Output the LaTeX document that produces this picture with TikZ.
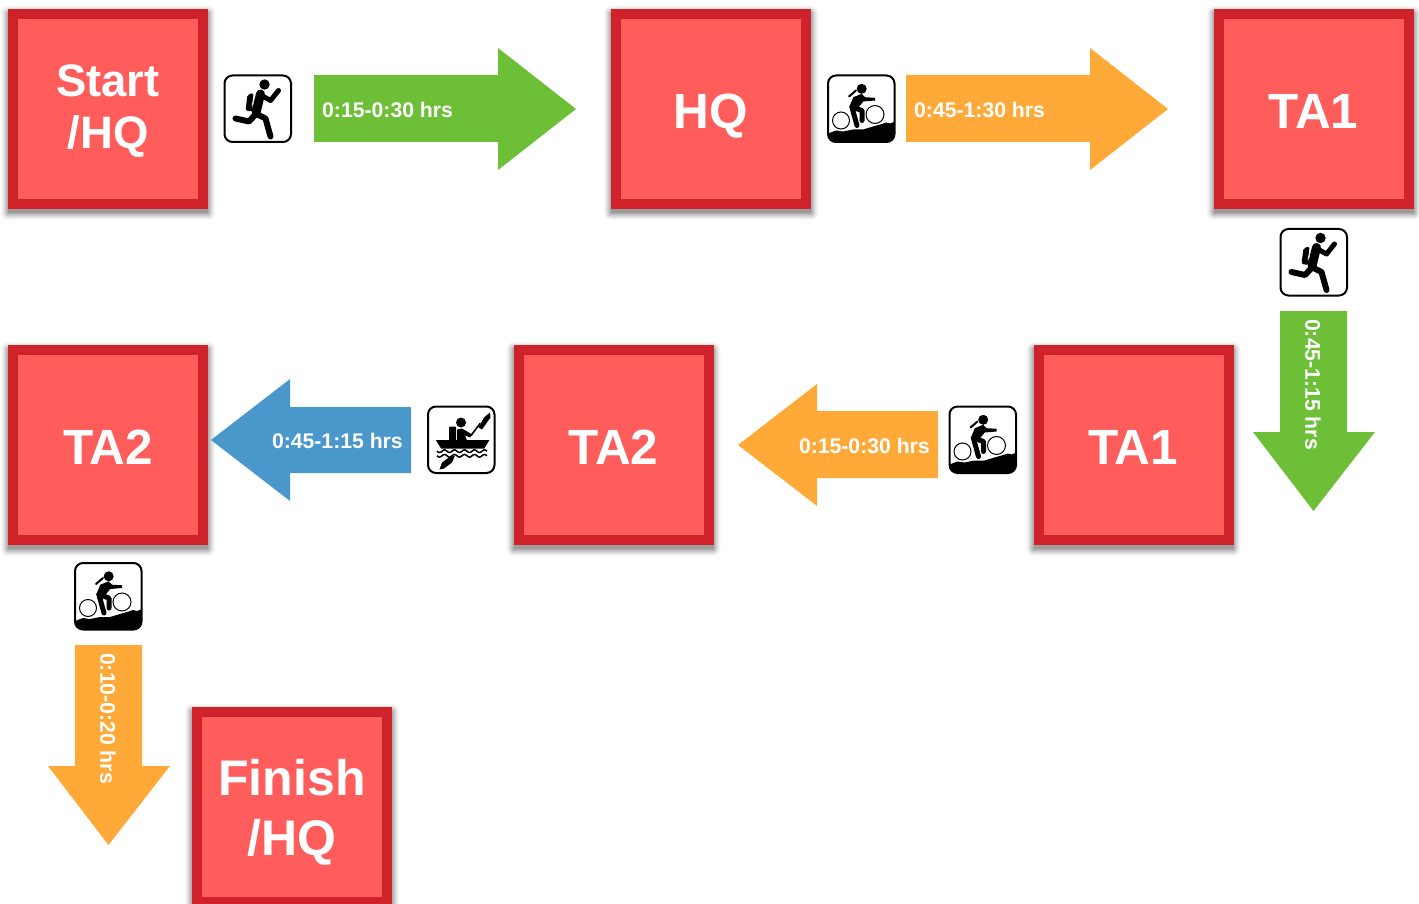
\documentclass[tikz,border=0pt]{standalone}
\usepackage{fontspec}
\setmainfont{Liberation Sans}[BoldFont={Liberation Sans Bold}]
\definecolor{boxfill}{HTML}{FF5C5C}
\definecolor{boxline}{HTML}{CF222B}
\definecolor{arrgreen}{HTML}{6DBF37}
\definecolor{arrorange}{HTML}{FFA939}
\definecolor{arrblue}{HTML}{4A98CB}
% text set with its baseline at a given height above the node's centre
\newcommand\atbase[2]{\makebox[0pt]{\raisebox{#1pt}[0pt][0pt]{#2}}}
\tikzset{
  x=1pt,y=-1pt,
  placebox/.style={draw=boxline,fill=boxfill,line width=10pt,minimum size=190pt,inner sep=0pt,outer sep=5pt,
    text=white,font=\bfseries\fontsize{49.5}{60}\selectfont},
  legtext/.style={text=white,font=\bfseries\fontsize{21.2}{24}\selectfont,inner sep=0pt},
  iconframe/.style={draw=black,line width=2pt,fill=white,rounded corners=8pt},
  limb/.style={draw=black,line cap=round,line join=round,line width=#1},
  limb/.default=5pt
}
\newcommand\runner[2]{\begin{scope}[shift={(#1,#2)}]
  \draw[iconframe] (0,0) rectangle (66.5,66.5);
  \fill (40,9) circle (5.2);
  \fill[rounded corners=2pt] (23,19) -- (29,17.5) -- (28,36) -- (21,35) -- cycle;
  \draw[limb=9pt] (36,18.5) -- (31.5,37);
  \draw[white,line width=.8pt] (30,18) -- (27.5,31);
  \draw[limb=5pt] (37,20) -- (46,25) -- (54,15);
  \draw[limb=6pt] (31,38) -- (41,43) -- (46,61);
  \draw[limb=6pt] (31,39) -- (24.5,46) -- (11,43);
\end{scope}}
\newcommand\biker[2]{\begin{scope}[shift={(#1,#2)}]
  \draw[iconframe] (0,0) rectangle (66.5,66.5);
  \begin{scope}
    \clip[rounded corners=8pt] (0,0) rectangle (66.5,66.5);
    \fill (0,58) -- (8,55) -- (15,56) -- (25,54) -- (35,54) -- (45,51) -- (52,49) -- (58,47) -- (62,48) -- (67,46) -- (67,67) -- (0,67) -- cycle;
  \end{scope}
  \draw[line width=1pt,fill=white] (13,45) circle (8.5);
  \draw[line width=1pt,fill=white] (47,39) circle (9);
  \fill (33.7,13.3) circle (5);
  \draw[limb=2pt] (21,21) -- (28,15);
  \fill (25.3,21.7) -- (33.7,18.3) -- (37,21.7) -- (47,22.3) -- (47,25) -- (35.3,26) -- (30.3,32) -- (21,32) -- cycle;
  \draw[limb=5pt] (25,32) -- (34,35) -- (34,45);
  \draw[limb=5pt] (24,32) -- (29,50);
\end{scope}}
\newcommand\kayaker[2]{\begin{scope}[shift={(#1,#2)}]
  \draw[iconframe] (0,0) rectangle (66.5,66.5);
  \fill (33,16) circle (5);
  \fill[rounded corners=1pt] (21,20) -- (28,20) -- (28,34) -- (21,34) -- cycle;
  \fill (29,23) -- (34,22) -- (44,28) -- (42,31) -- (37,29) -- (39,34) -- (29,34) -- cycle;
  \draw[limb=1.6pt] (43,29) -- (52,17);
  \fill (50.5,21) -- (56,11) -- (62,6) -- (62.5,11) -- (54,23) -- cycle;
  \fill (8,33.7) -- (61.3,33.7) -- (56.3,42) -- (13,42) -- cycle;
  \draw[line width=1.5pt] plot[domain=0:50,samples=61] (9+\x,{44.7+1.3*sin(\x*36)});
  \draw[line width=1.5pt] plot[domain=0:50,samples=61] (9+\x,{49.3+1.3*sin(\x*36)});
  \fill (11.5,63) -- (14,56) -- (21,51) -- (27,49) -- (24,56) -- (16,62) -- cycle;
\end{scope}}
\begin{document}
\begin{tikzpicture}
\useasboundingbox (0,0) rectangle (1419,904);
\clip (0,0) rectangle (1419,904);
\fill[white] (0,0) rectangle (1419,904);
% place boxes
\path (108,109) coordinate (c1) (711,109) coordinate (c2) (1314,109) coordinate (c3)
      (108,445) coordinate (c4) (613.5,445) coordinate (c5) (1133.5,445) coordinate (c6) (292,807) coordinate (c7);
\foreach \c in {c1,c2,c3,c4,c5,c6,c7}{
  \foreach \e/\o in {7/.03,6/.03,5/.04,4/.05,3/.06,2/.07,1/.08,0/.10}{
    \fill[black,opacity=\o,rounded corners=\e pt] ([shift={(-100-\e,-100-\e+4)}]\c) rectangle ([shift={(100+\e,100+\e+4)}]\c);
  }
}
\node[placebox,font=\bfseries\fontsize{45.5}{52}\selectfont] (start) at (c1) {\atbase{12}{Start}\atbase{-40}{/HQ}};
\node[placebox] (hq) at (c2) {\atbase{-19.5}{HQ}};
\node[placebox] (ta1a) at (c3) {\atbase{-19.5}{\kern-1pt TA1}};
\node[placebox] (ta2a) at (c4) {\atbase{-19.5}{TA2}};
\node[placebox] (ta2b) at (c5) {\atbase{-19.5}{TA2}};
\node[placebox] (ta1b) at (c6) {\atbase{-19.5}{\kern-1pt TA1}};
\node[placebox,font=\bfseries\fontsize{50}{60}\selectfont] (finish) at (c7) {\atbase{11.5}{Finish}\atbase{-48.5}{/HQ}};
% arrows
\fill[arrgreen] (314,75) -- (498,75) -- (498,48) -- (576,109) -- (498,170) -- (498,142) -- (314,142) -- cycle;
\node[legtext,anchor=west] (leg1) at (322,109.5) {0:15-0:30 hrs};
\fill[arrorange] (906,75) -- (1090,75) -- (1090,48) -- (1168,109) -- (1090,170) -- (1090,142) -- (906,142) -- cycle;
\node[legtext,anchor=west] (leg2) at (914,109.5) {0:45-1:30 hrs};
\fill[arrgreen] (1280,311) -- (1347,311) -- (1347,432) -- (1375,432) -- (1313.5,511) -- (1253,432) -- (1280,432) -- cycle;
\node[legtext,anchor=west,rotate=-90] (leg3) at (1313,319) {0:45-1:15 hrs};
\fill[arrblue] (411,407) -- (411,473) -- (290,473) -- (290,501) -- (211,440) -- (290,379) -- (290,407) -- cycle;
\node[legtext,anchor=east] (leg4) at (403,440.5) {0:45-1:15 hrs};
\fill[arrorange] (938,411) -- (938,478) -- (817,478) -- (817,506) -- (738,445) -- (817,384) -- (817,411) -- cycle;
\node[legtext,anchor=east] (leg5) at (930,445.5) {0:15-0:30 hrs};
\fill[arrorange] (75,645) -- (142,645) -- (142,766) -- (170,766) -- (108.5,845) -- (48,766) -- (75,766) -- cycle;
\node[legtext,anchor=west,rotate=-90] (leg6) at (108,653) {0:10-0:20 hrs};
% icons
\runner{224.5}{75.5}
\biker{828}{75.5}
\runner{1280.5}{229}
\kayaker{428}{406.5}
\biker{949.5}{406.5}
\biker{75}{563}
\end{tikzpicture}
\end{document}
